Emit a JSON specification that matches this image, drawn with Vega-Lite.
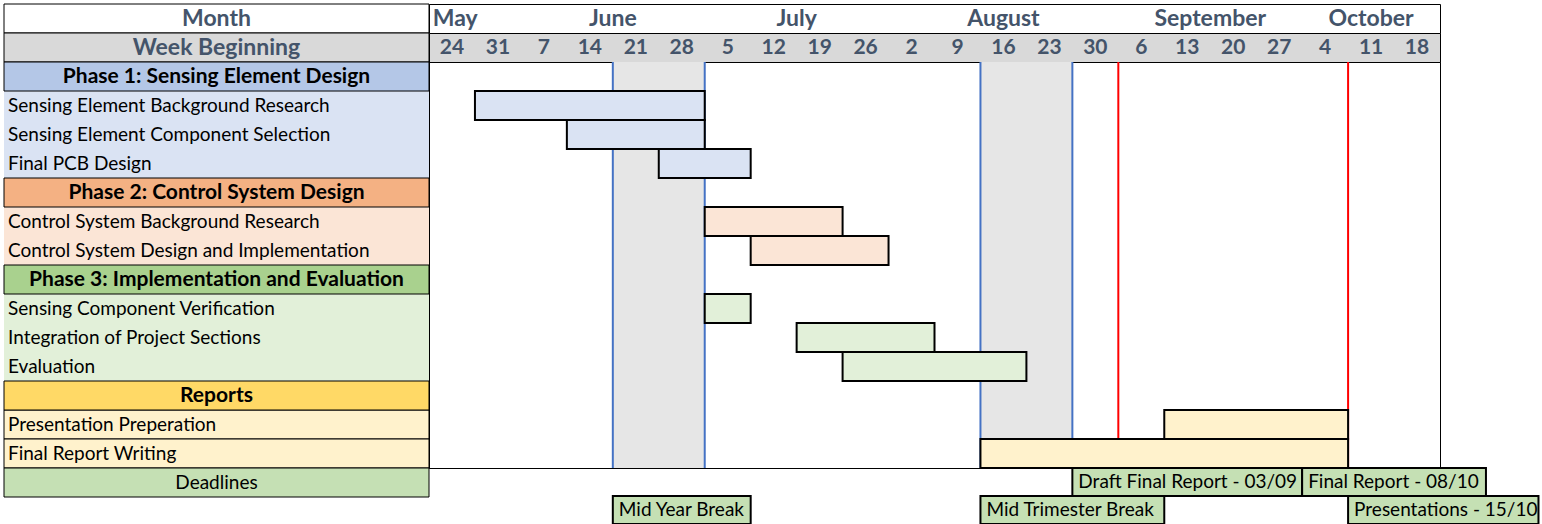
{
  "$schema": "https://vega.github.io/schema/vega-lite/v6.json",
  "padding": {"left": 3, "top": 3, "right": 0, "bottom": 0},
  "background": "white",
  "spacing": 0,
  "bounds": "flush",
  "columns": 2,
  "config": {"view": {"stroke": "black", "strokeWidth": 1}, "concat": {"spacing": 0}, "font": "Lato"},
  "datasets": {
    "rows": [
      {"name": "Phase 1: Sensing Element Design", "group": "Phase 1", "kind": "header"},
      {"name": "Sensing Element Background Research", "group": "Phase 1", "kind": "task", "start": "2021-05-31", "end": "2021-07-05"},
      {"name": "Sensing Element Component Selection", "group": "Phase 1", "kind": "task", "start": "2021-06-14", "end": "2021-07-05"},
      {"name": "Final PCB Design", "group": "Phase 1", "kind": "task", "start": "2021-06-28", "end": "2021-07-12"},
      {"name": "Phase 2: Control System Design", "group": "Phase 2", "kind": "header"},
      {"name": "Control System Background Research", "group": "Phase 2", "kind": "task", "start": "2021-07-05", "end": "2021-07-26"},
      {"name": "Control System Design and Implementation", "group": "Phase 2", "kind": "task", "start": "2021-07-12", "end": "2021-08-02"},
      {"name": "Phase 3: Implementation and Evaluation", "group": "Phase 3", "kind": "header"},
      {"name": "Sensing Component Verification", "group": "Phase 3", "kind": "task", "start": "2021-07-05", "end": "2021-07-12"},
      {"name": "Integration of Project Sections", "group": "Phase 3", "kind": "task", "start": "2021-07-19", "end": "2021-08-09"},
      {"name": "Evaluation", "group": "Phase 3", "kind": "task", "start": "2021-07-26", "end": "2021-08-23"},
      {"name": "Reports", "group": "Reports", "kind": "header"},
      {"name": "Presentation Preperation", "group": "Reports", "kind": "task", "start": "2021-09-13", "end": "2021-10-11"},
      {"name": "Final Report Writing", "group": "Reports", "kind": "task", "start": "2021-08-16", "end": "2021-10-11"}
    ],
    "months": [
      {"month": "May", "at": "2021-05-28"},
      {"month": "June", "at": "2021-06-21"},
      {"month": "July", "at": "2021-07-19"},
      {"month": "August", "at": "2021-08-19T12:00:00Z"},
      {"month": "September", "at": "2021-09-20"},
      {"month": "October", "at": "2021-10-14T12:00:00Z"}
    ],
    "weeks": [
      {"week": "2021-05-24", "day": "24"}, {"week": "2021-05-31", "day": "31"},
      {"week": "2021-06-07", "day": "7"}, {"week": "2021-06-14", "day": "14"},
      {"week": "2021-06-21", "day": "21"}, {"week": "2021-06-28", "day": "28"},
      {"week": "2021-07-05", "day": "5"}, {"week": "2021-07-12", "day": "12"},
      {"week": "2021-07-19", "day": "19"}, {"week": "2021-07-26", "day": "26"},
      {"week": "2021-08-02", "day": "2"}, {"week": "2021-08-09", "day": "9"},
      {"week": "2021-08-16", "day": "16"}, {"week": "2021-08-23", "day": "23"},
      {"week": "2021-08-30", "day": "30"}, {"week": "2021-09-06", "day": "6"},
      {"week": "2021-09-13", "day": "13"}, {"week": "2021-09-20", "day": "20"},
      {"week": "2021-09-27", "day": "27"}, {"week": "2021-10-04", "day": "4"},
      {"week": "2021-10-11", "day": "11"}, {"week": "2021-10-18", "day": "18"}
    ],
    "breaks": [
      {"break": "Mid Year Break", "start": "2021-06-21", "end": "2021-07-05"},
      {"break": "Mid Trimester Break", "start": "2021-08-16", "end": "2021-08-30"}
    ],
    "deadlineLines": [
      {"deadline": "Draft Final Report", "date": "2021-09-06"},
      {"deadline": "Final Report", "date": "2021-10-11"}
    ],
    "notes": [
      {"label": "Draft Final Report - 03/09", "start": "2021-08-30", "end": "2021-10-04", "lane": "upper"},
      {"label": "Final Report - 08/10", "start": "2021-10-04", "end": "2021-11-01", "lane": "upper"},
      {"label": "Mid Year Break", "start": "2021-06-21", "end": "2021-07-12", "lane": "lower"},
      {"label": "Mid Trimester Break", "start": "2021-08-16", "end": "2021-09-13", "lane": "lower"},
      {"label": "Presentations - 15/10", "start": "2021-10-11", "end": "2021-11-09", "lane": "lower"}
    ]
  },
  "concat": [
    {"width": 425, "height": 29, "data": {"values": [{"t": "Month"}]},
     "layer": [
       {"mark": {"type": "rect", "fill": "white", "stroke": "black", "strokeWidth": 1}, "encoding": {}},
       {"mark": {"type": "text", "fontSize": 23, "fontWeight": "bold", "color": "#44546a"},
        "encoding": {"text": {"field": "t"}}}
     ]},
    {"width": 1011, "height": 29, "data": {"name": "months"},
     "mark": {"type": "text", "fontSize": 23, "fontWeight": "bold", "color": "#44546a"},
     "encoding": {
       "x": {"field": "at", "type": "temporal", "axis": null, "scale": {"type": "utc", "domain": [{"year": 2021, "month": 5, "date": 24, "utc": true}, {"year": 2021, "month": 10, "date": 25, "utc": true}]}},
       "text": {"field": "month"}}},
    {"width": 425, "height": 29, "data": {"values": [{"t": "Week Beginning"}]},
     "layer": [
       {"mark": {"type": "rect", "fill": "#d9d9d9", "stroke": "black", "strokeWidth": 1}, "encoding": {}},
       {"mark": {"type": "text", "fontSize": 23, "fontWeight": "bold", "color": "#44546a"},
        "encoding": {"text": {"field": "t"}}}
     ]},
    {"width": 1011, "height": 29, "view": {"fill": "#d9d9d9"}, "data": {"name": "weeks"},
     "mark": {"type": "text", "fontSize": 21, "fontWeight": "bold", "color": "#44546a", "dx": 23},
     "encoding": {
       "x": {"field": "week", "type": "temporal", "axis": null, "scale": {"type": "utc", "domain": [{"year": 2021, "month": 5, "date": 24, "utc": true}, {"year": 2021, "month": 10, "date": 25, "utc": true}]}},
       "text": {"field": "day"}}},
    {"width": 425, "height": 406, "data": {"name": "rows"},
     "encoding": {"y": {"field": "name", "type": "nominal", "axis": null,
       "scale": {"paddingInner": 0, "paddingOuter": 0, "domain": ["Phase 1: Sensing Element Design", "Sensing Element Background Research", "Sensing Element Component Selection", "Final PCB Design", "Phase 2: Control System Design", "Control System Background Research", "Control System Design and Implementation", "Phase 3: Implementation and Evaluation", "Sensing Component Verification", "Integration of Project Sections", "Evaluation", "Reports", "Presentation Preperation", "Final Report Writing"]}}},
     "layer": [
       {"transform": [{"filter": "datum.kind === 'task'"}],
        "mark": {"type": "rect", "strokeWidth": 1},
        "encoding": {
          "fill": {"field": "group", "type": "nominal", "legend": null, "scale": {"domain": ["Phase 1", "Phase 2", "Phase 3", "Reports"], "range": ["#dae3f3", "#fbe5d6", "#e2f0d9", "#fff2cc"]}},
          "stroke": {"condition": {"test": "datum.group === 'Reports'", "value": "black"}, "value": "transparent"}}},
       {"transform": [{"filter": "datum.kind === 'header'"}],
        "mark": {"type": "rect", "stroke": "black", "strokeWidth": 1},
        "encoding": {"color": {"field": "group", "type": "nominal", "legend": null, "scale": {"domain": ["Phase 1", "Phase 2", "Phase 3", "Reports"], "range": ["#b4c7e7", "#f4b183", "#a9d18e", "#ffd966"]}}}},
       {"transform": [{"filter": "datum.kind === 'header'"}],
        "mark": {"type": "text", "fontSize": 21, "fontWeight": "bold", "color": "black"},
        "encoding": {"text": {"field": "name"}}},
       {"transform": [{"filter": "datum.kind === 'task'"}],
        "mark": {"type": "text", "fontSize": 19, "align": "left", "dx": 4, "color": "black"},
        "encoding": {"x": {"datum": 0, "type": "quantitative", "axis": null, "scale": {"domain": [0, 1]}}, "text": {"field": "name"}}}
     ]},
    {"width": 1011, "height": 406,
     "layer": [
       {"data": {"name": "breaks"}, "mark": {"type": "rect", "color": "#e6e6e6"},
        "encoding": {"x": {"field": "start", "type": "temporal", "axis": null, "scale": {"type": "utc", "domain": [{"year": 2021, "month": 5, "date": 24, "utc": true}, {"year": 2021, "month": 10, "date": 25, "utc": true}]}}, "x2": {"field": "end"}}},
       {"data": {"name": "breaks"}, "mark": {"type": "rule", "color": "#4472c4", "strokeWidth": 2},
        "encoding": {"x": {"field": "start", "type": "temporal", "axis": null, "scale": {"type": "utc", "domain": [{"year": 2021, "month": 5, "date": 24, "utc": true}, {"year": 2021, "month": 10, "date": 25, "utc": true}]}}}},
       {"data": {"name": "breaks"}, "mark": {"type": "rule", "color": "#4472c4", "strokeWidth": 2},
        "encoding": {"x": {"field": "end", "type": "temporal", "axis": null, "scale": {"type": "utc", "domain": [{"year": 2021, "month": 5, "date": 24, "utc": true}, {"year": 2021, "month": 10, "date": 25, "utc": true}]}}}},
       {"data": {"name": "deadlineLines"}, "mark": {"type": "rule", "color": "#ff0000", "strokeWidth": 2},
        "encoding": {"x": {"field": "date", "type": "temporal", "axis": null, "scale": {"type": "utc", "domain": [{"year": 2021, "month": 5, "date": 24, "utc": true}, {"year": 2021, "month": 10, "date": 25, "utc": true}]}}}},
       {"data": {"name": "rows"}, "transform": [{"filter": "datum.kind === 'task'"}],
        "mark": {"type": "rect", "stroke": "black", "strokeWidth": 2},
        "encoding": {
          "x": {"field": "start", "type": "temporal", "axis": null, "scale": {"type": "utc", "domain": [{"year": 2021, "month": 5, "date": 24, "utc": true}, {"year": 2021, "month": 10, "date": 25, "utc": true}]}},
          "x2": {"field": "end"},
          "y": {"field": "name", "type": "nominal", "axis": null,
            "scale": {"paddingInner": 0, "paddingOuter": 0, "domain": ["Phase 1: Sensing Element Design", "Sensing Element Background Research", "Sensing Element Component Selection", "Final PCB Design", "Phase 2: Control System Design", "Control System Background Research", "Control System Design and Implementation", "Phase 3: Implementation and Evaluation", "Sensing Component Verification", "Integration of Project Sections", "Evaluation", "Reports", "Presentation Preperation", "Final Report Writing"]}},
          "fill": {"field": "group", "type": "nominal", "legend": null, "scale": {"domain": ["Phase 1", "Phase 2", "Phase 3", "Reports"], "range": ["#dae3f3", "#fbe5d6", "#e2f0d9", "#fff2cc"]}}}}
     ]},
    {"width": 425, "height": 29, "data": {"values": [{"t": "Deadlines"}]},
     "layer": [
       {"mark": {"type": "rect", "fill": "#c5e0b4", "stroke": "black", "strokeWidth": 1}, "encoding": {}},
       {"mark": {"type": "text", "fontSize": 19, "color": "black"},
        "encoding": {"text": {"field": "t"}}}
     ]},
    {"width": 1011, "height": 56, "view": {"stroke": null}, "data": {"name": "notes"},
     "encoding": {"y": {"field": "lane", "type": "nominal", "axis": null, "scale": {"domain": ["upper", "lower"], "paddingInner": 0, "paddingOuter": 0}}},
     "layer": [
       {"mark": {"type": "rect", "fill": "#c5e0b4", "stroke": "black", "strokeWidth": 2},
        "encoding": {"x": {"field": "start", "type": "temporal", "axis": null, "scale": {"type": "utc", "domain": [{"year": 2021, "month": 5, "date": 24, "utc": true}, {"year": 2021, "month": 10, "date": 25, "utc": true}]}}, "x2": {"field": "end"}}},
       {"mark": {"type": "text", "align": "left", "dx": 6, "fontSize": 19, "color": "black"},
        "encoding": {"x": {"field": "start", "type": "temporal", "axis": null, "scale": {"type": "utc", "domain": [{"year": 2021, "month": 5, "date": 24, "utc": true}, {"year": 2021, "month": 10, "date": 25, "utc": true}]}}, "text": {"field": "label"}}}
     ]}
  ]
}
